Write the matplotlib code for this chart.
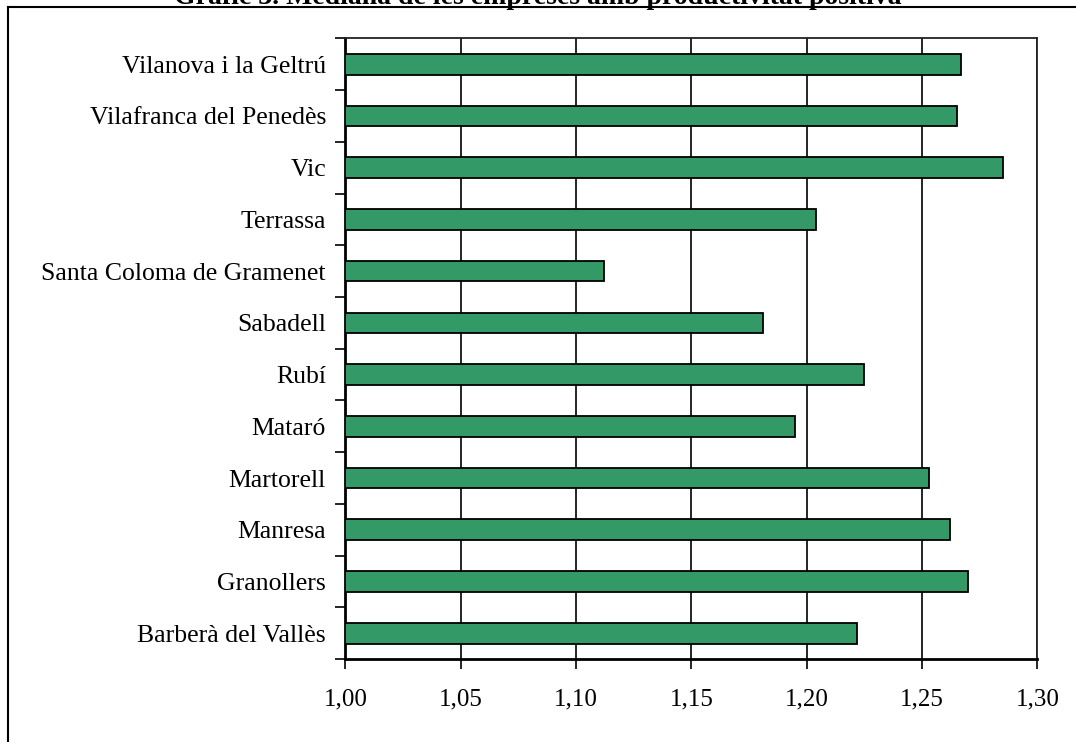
import matplotlib
matplotlib.use("Agg")
import matplotlib.pyplot as plt
from matplotlib.lines import Line2D

title = "Gràfic 3. Mediana de les empreses amb productivitat positiva"
categories = ["Barberà del Vallès", "Granollers", "Manresa", "Martorell", "Mataró",
              "Rubí", "Sabadell", "Santa Coloma de Gramenet", "Terrassa", "Vic",
              "Vilafranca del Penedès", "Vilanova i la Geltrú"]
values = [1.222, 1.270, 1.262, 1.253, 1.195, 1.225, 1.181, 1.112, 1.204, 1.285, 1.265, 1.267]
xticks = [1.00, 1.05, 1.10, 1.15, 1.20, 1.25, 1.30]
xtick_labels = ["1,00", "1,05", "1,10", "1,15", "1,20", "1,25", "1,30"]

plt.rcParams['font.family'] = ['Liberation Serif', 'DejaVu Serif']

W, H = 1076, 742
fig = plt.figure(figsize=(W / 100, H / 100), dpi=100)
ax = fig.add_axes([345.4 / W, 1 - 659.2 / H, (1037.3 - 345.4) / W, (659.2 - 38.3) / H])

n = len(categories)
pos = list(range(n))
ax.barh(pos, [v - 1.0 for v in values], left=1.0, height=0.4, color="#339966",
        edgecolor="black", linewidth=1.3, zorder=3)

ax.set_xlim(1.0, 1.30)
ax.set_ylim(-0.5, n - 0.5)
ax.set_xticks(xticks)
ax.set_xticklabels(xtick_labels, fontsize=18)
ax.xaxis.grid(True, color="black", linewidth=1.2, zorder=0)
ax.set_axisbelow(True)

# y: category labels at centers (no tick), tick marks at boundaries
ax.set_yticks(pos)
ax.set_yticklabels(categories, fontsize=18.5)
ax.tick_params(axis='y', which='major', length=0, pad=14)
ax.set_yticks([p - 0.5 for p in pos] + [n - 0.5], minor=True)
ax.tick_params(axis='y', which='minor', length=7, width=1.2, direction='out')
ax.tick_params(axis='x', which='major', length=7, width=1.2, direction='out', pad=14)

for s in ['left', 'bottom']:
    ax.spines[s].set_linewidth(2.0)
for s in ['top', 'right']:
    ax.spines[s].set_linewidth(1.3)
    ax.spines[s].set_color("#222222")

# outer frame
fig.add_artist(Line2D([8.3 / W, 1.0], [1 - 7.3 / H, 1 - 7.3 / H], color="black",
                      linewidth=1.5, transform=fig.transFigure))
fig.add_artist(Line2D([8.3 / W, 8.3 / W], [0.0, 1 - 7.3 / H], color="black",
                      linewidth=1.5, transform=fig.transFigure))

fig.text(538 / W, 1 - 4 / H, title, ha="center", va="baseline", fontsize=20,
         fontweight="bold")

fig.savefig("out.png", dpi=100)
